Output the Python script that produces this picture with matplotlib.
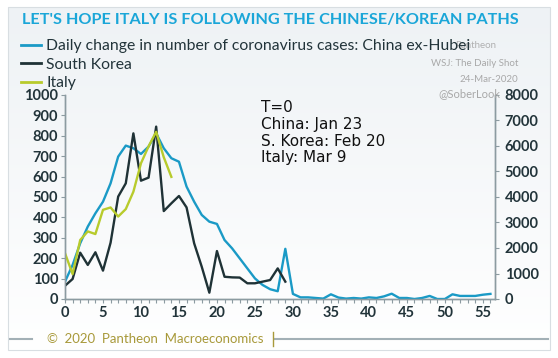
import numpy as np
import matplotlib.pyplot as plt
from matplotlib.lines import Line2D

# days since T=0
china = [85, 167, 273, 355, 420, 477, 567, 698, 752, 739, 711, 747, 812, 739, 690, 673,
         551, 477, 412, 379, 368, 289, 248, 199, 150, 101, 69, 48, 38, 246, 25, 8, 8, 5,
         2, 23, 7, 2, 5, 2, 8, 5, 13, 26, 5, 5, 0, 5, 15, 0, 0, 23, 15, 15, 15, 21, 25]
korea = [65, 98, 227, 167, 229, 139, 276, 502, 567, 812, 580, 595, 845, 431, 469, 505,
         449, 273, 158, 31, 235, 109, 106, 105, 77, 77, 85, 93, 150, 85]
# Italy is on the right-hand scale
italy = [1797, 977, 2313, 2651, 2547, 3497, 3590, 3233, 3526, 4207, 5322, 5986, 6557, 5560, 4789]

BLUE = '#1a9ac6'
DARK = '#1f3236'
GREEN = '#b8cb2c'
TXT = '#22343a'

plt.rcParams['font.family'] = ['Lato', 'DejaVu Sans']

fig = plt.figure(figsize=(5.58, 3.58), dpi=100)

# background panel with soft gradient
bg = fig.add_axes([0, 0, 1, 1], zorder=-10)
grad = np.linspace(0, 1, 256).reshape(-1, 1)
bg.imshow(grad, extent=[8, 550, 8, 351], cmap=plt.matplotlib.colors.LinearSegmentedColormap.from_list(
    'g', ['#ffffff', '#eef2f5']), origin='lower', aspect='auto')
bg.add_patch(plt.Rectangle((8, 8), 542, 343, fill=False, ec='#d8dee2', lw=0.8))
bg.set_xlim(0, 558)
bg.set_ylim(0, 358)
bg.axis('off')

ax = fig.add_axes([65 / 558, 1 - 299 / 358, 430 / 558, 204 / 358])
ax.patch.set_alpha(0)
ax2 = ax.twinx()

ax.plot(range(len(china)), china, color=BLUE, lw=1.7, zorder=3)
ax.plot(range(len(korea)), korea, color=DARK, lw=1.7, zorder=4)
ax2.plot(range(len(italy)), italy, color=GREEN, lw=1.7)

ax.set_xlim(0, 56.6)
ax.set_ylim(0, 1000)
ax2.set_ylim(0, 8000)
ax.set_xticks(range(0, 56, 5))
ax.set_xticks(range(0, 57), minor=True)
ax.set_yticks(range(0, 1001, 100))
ax2.set_yticks(range(0, 8001, 1000))

for a in (ax, ax2):
    for s in a.spines.values():
        s.set_color('#8c9ba1')
        s.set_linewidth(1.0)
    a.spines['top'].set_visible(False)
    a.tick_params(colors='#8c9ba1', labelcolor=TXT, labelsize=10.5, length=3, width=0.8)
    a.tick_params(which='minor', colors='#8c9ba1', length=3, width=0.8)
    for lab in a.get_yticklabels() + a.get_xticklabels():
        lab.set_fontweight('bold')
ax.tick_params(axis='x', pad=2)
ax.tick_params(axis='y', pad=2)
ax2.tick_params(axis='y', pad=4)

ax.text(0.455, 0.975, 'T=0\nChina: Jan 23\nS. Korea: Feb 20\nItaly: Mar 9', transform=ax.transAxes,
        ha='left', va='top', fontsize=11, color='#111111', linespacing=1.15,
        family='DejaVu Sans')

fig.text(22 / 558, 1 - 20 / 358, "LET'S HOPE ITALY IS FOLLOWING THE CHINESE/KOREAN PATHS",
         color='#1aa6d8', fontsize=11.7, fontweight='bold', va='center')

# watermark texts
fig.text(455 / 558, 1 - 46 / 358, 'Pantheon', color='#b0b0b0', fontsize=7, va='center')
fig.text(518 / 558, 1 - 63 / 358, 'WSJ: The Daily Shot', color='#a8a8a8', fontsize=7, va='center', ha='right')
fig.text(518 / 558, 1 - 79 / 358, '24-Mar-2020', color='#a8a8a8', fontsize=7, va='center', ha='right')
fig.text(500 / 558, 1 - 94 / 358, '@SoberLook', color='#a8a8a8', fontsize=8, va='center', ha='right')

handles = [Line2D([], [], color=BLUE, lw=2),
           Line2D([], [], color=DARK, lw=2),
           Line2D([], [], color=GREEN, lw=2)]
labels = ['Daily change in number of coronavirus cases: China ex-Hubei', 'South Korea', 'Italy']
leg = fig.legend(handles, labels, loc='upper left', bbox_to_anchor=(21 / 558, 1 - 39 / 358),
                 frameon=False, fontsize=11.3, handlelength=1.3, handletextpad=0.3,
                 labelspacing=0.3, borderpad=0, borderaxespad=0)
for t in leg.get_texts():
    t.set_color(TXT)

# footer
bg.plot([10, 32], [358 - 339, 358 - 339], color='#a3b0b6', lw=1.5)
bg.plot([275, 548], [358 - 339, 358 - 339], color='#a3b0b6', lw=1.5)
bg.text(47, 358 - 339, '\u00a9  2020  Pantheon  Macroeconomics', color='#a8993a', fontsize=9.5,
        va='center', ha='left')
bg.plot([273, 273], [358 - 346, 358 - 332], color='#a8993a', lw=1)

fig.savefig('out.png', dpi=100)
